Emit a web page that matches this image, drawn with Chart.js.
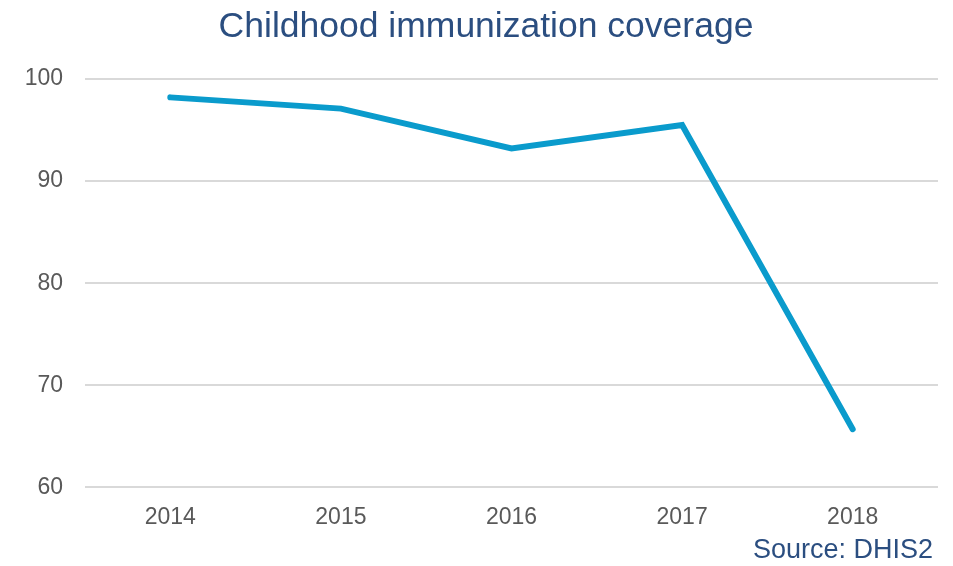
<!DOCTYPE html>
<html>
<head>
<meta charset="utf-8">
<script src="https://cdn.jsdelivr.net/npm/chart.js@4/dist/chart.umd.min.js"></script>
<style>
  html, body { margin: 0; padding: 0; background: #ffffff; }
  #wrap { width: 953px; height: 566px; }
</style>
</head>
<body>
<div id="wrap"><canvas id="chart" width="953" height="566"></canvas></div>
<script>
const years = ['2014', '2015', '2016', '2017', '2018'];
const coverage = [98.2, 97.1, 93.2, 95.5, 65.7];
const yTicks = [60, 70, 80, 90, 100];
const chartTitle = 'Childhood immunization coverage';
const sourceNote = 'Source: DHIS2';

const fontFamily = "'Liberation Sans', 'Open Sans', sans-serif";
const tickColor = '#595959';
const titleColor = '#2B4E80';

// titre et source dessinés à la main pour les placer comme dans l'original
const textPlugin = {
  id: 'texts',
  afterDraw(chart) {
    const c = chart.ctx;
    c.save();
    c.fillStyle = titleColor;
    c.textBaseline = 'middle';
    c.font = `35.5px ${fontFamily}`;
    c.textAlign = 'center';
    c.fillText(chartTitle, 486, 27);
    c.font = `27px ${fontFamily}`;
    c.textAlign = 'right';
    c.fillText(sourceNote, 933, 551);
    c.restore();
  }
};

const ctx = document.getElementById('chart').getContext('2d');
new Chart(ctx, {
  type: 'line',
  data: {
    labels: years,
    datasets: [{
      label: 'Coverage',
      data: coverage,
      borderColor: '#0A9BCC',
      borderWidth: 6,
      pointRadius: 0,
      fill: false,
      tension: 0,
      borderCapStyle: 'round'
    }]
  },
  options: {
    responsive: false,
    animation: false,
    layout: { padding: { left: 0, right: 15, top: 79, bottom: 27 } },
    scales: {
      x: {
        offset: true,
        grid: { display: false },
        border: { display: false },
        ticks: { color: tickColor, font: { family: fontFamily, size: 23 }, padding: 8 }
      },
      y: {
        min: 60,
        max: 100,
        afterBuildTicks: (scale) => { scale.ticks = yTicks.map(v => ({ value: v })); },
        afterFit: (scale) => { scale.width = 85; },
        grid: { color: '#D9D9D9', lineWidth: 2, drawTicks: false },
        border: { display: false },
        ticks: { color: tickColor, font: { family: fontFamily, size: 23 }, padding: 22 }
      }
    },
    plugins: {
      legend: { display: false },
      tooltip: { enabled: false }
    }
  },
  plugins: [textPlugin]
});
</script>
</body>
</html>
